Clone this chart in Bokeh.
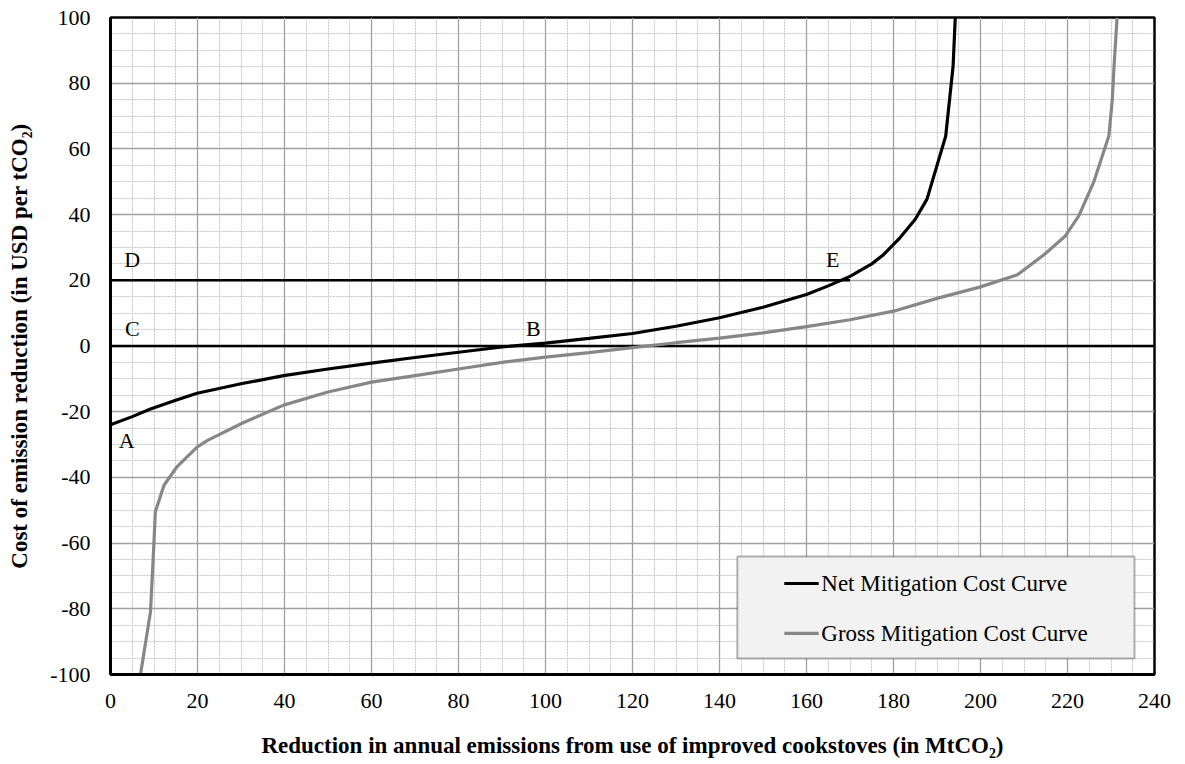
from bokeh.plotting import figure
from bokeh.models import (SingleIntervalTicker, BoxAnnotation, Range1d, CustomJSTickFormatter)
from bokeh.core.properties import value
from bokeh.embed import file_html
from bokeh.resources import INLINE

# ---- data ----
net_x = [0, 5, 9.2, 15, 19.9, 30, 39.8, 50, 60, 70, 80, 90, 100, 110, 120, 130, 140, 150,
         160, 165, 170, 175, 177.7, 181.2, 185, 187.7, 192, 193.7, 194.2]
net_y = [-24, -21.5, -19.2, -16.5, -14.4, -11.5, -9, -7, -5.2, -3.5, -1.9, -0.3, 0.9, 2.3,
         3.8, 6, 8.6, 11.8, 15.7, 18.3, 21.2, 25, 27.8, 32.5, 38.6, 44.7, 63.9, 85.2, 100]

gross_x = [6.9, 9.2, 10, 10.3, 12.3, 15.2, 19.9, 22.2, 30.6, 39.8, 50, 60, 70, 80, 90, 100,
           110, 120, 130, 140, 150, 160, 170, 180, 190, 200, 208.5, 214.6, 219.5, 222.6,
           226, 229.5, 230.3, 230.7, 231.4]
gross_y = [-100, -80.8, -59.6, -50.5, -42.4, -36.9, -30.8, -28.8, -23.3, -18, -14, -11, -9,
           -7, -5, -3.4, -2, -0.5, 1, 2.4, 4, 5.9, 8, 10.6, 14.5, 18, 21.7, 27.8, 33.5,
           39.6, 49.8, 63.9, 75, 85.2, 100]

line_c_x = [0, 240]
line_c_y = [0, 0]
line_d_x = [0, 170]
line_d_y = [20, 20]

point_labels = ["A", "B", "C", "D", "E"]
point_label_x = [3.7, 97.2, 5, 5, 166]
point_label_y = [-28.8, 5.2, 5.2, 26.2, 26.4]

x_ticks = [0, 20, 40, 60, 80, 100, 120, 140, 160, 180, 200, 220, 240]
x_tick_labels = ["0", "20", "40", "60", "80", "100", "120", "140", "160", "180", "200",
                 "220", "240"]
y_ticks = [-100, -80, -60, -40, -20, 0, 20, 40, 60, 80, 100]
y_tick_labels = ["-100", "-80", "-60", "-40", "-20", "0", "20", "40", "60", "80", "100"]

series_names = ["Net Mitigation Cost Curve", "Gross Mitigation Cost Curve"]
series_colors = ["black", "#878787"]
x_title = "Reduction in annual emissions from use of improved cookstoves (in MtCO\u2082)"
y_title = "Cost of emission reduction (in USD per tCO\u2082)"

SERIF = "Liberation Serif"

X0, X1, Y0, Y1 = 0, 240, -100, 100

p = figure(width=1175, height=760, output_backend="svg", toolbar_location=None,
           x_range=Range1d(X0, X1), y_range=Range1d(Y0, Y1))
p.min_border_left = 110
p.min_border_top = 17
p.min_border_right = 21
p.min_border_bottom = 85
p.background_fill_color = "white"
p.border_fill_color = "white"
p.outline_line_color = "black"
p.outline_line_width = 2.5

p.xaxis.ticker = SingleIntervalTicker(interval=20, num_minor_ticks=4)
p.yaxis.ticker = SingleIntervalTicker(interval=20, num_minor_ticks=4)
p.xaxis.formatter = CustomJSTickFormatter(code="return ''")
p.yaxis.formatter = CustomJSTickFormatter(code="return ''")

for ax in (p.xaxis, p.yaxis):
    ax.major_tick_line_color = None
    ax.minor_tick_line_color = None
    ax.major_tick_out = 0
    ax.major_tick_in = 0
    ax.axis_line_color = "black"
    ax.axis_line_width = 3
    ax.major_label_standoff = 0
    ax.major_label_text_font_size = "1px"
    ax.axis_label_text_font = SERIF
    ax.axis_label_text_font_style = "bold"
    ax.axis_label_text_font_size = "23px"
    ax.axis_label_text_color = "black"

p.xaxis.axis_label = x_title
p.yaxis.axis_label = y_title
p.xaxis.axis_label_standoff = 54
p.yaxis.axis_label_standoff = 75

for g in (p.xgrid, p.ygrid):
    g.grid_line_color = "#a0a0a0"
    g.grid_line_width = 1.3
    g.minor_grid_line_color = "#c4c4c4"
    g.minor_grid_line_width = 1
    g.minor_grid_line_dash = "2 1"

# reference lines C and D
p.line(line_c_x, line_c_y, line_color="black", line_width=2.5)
p.line(line_d_x, line_d_y, line_color="black", line_width=2.5)

p.line(net_x, net_y, line_color=series_colors[0], line_width=3.2)
p.line(gross_x, gross_y, line_color=series_colors[1], line_width=3.2)

p.text(x=point_label_x, y=point_label_y, text=point_labels, text_font=value(SERIF),
       text_font_size="22px", text_color="black", text_align="center",
       text_baseline="middle")

# tick labels (drawn as text at the tick values, outside the frame)
p.text(x=x_ticks, y=[Y0] * len(x_ticks), text=x_tick_labels, text_font=value(SERIF),
       text_font_size="22px", text_color="black", text_align="center",
       text_baseline="middle", y_offset=26, level="overlay")
p.text(x=[X0] * len(y_ticks), y=y_ticks, text=y_tick_labels, text_font=value(SERIF),
       text_font_size="22px", text_color="black", text_align="right",
       text_baseline="middle", x_offset=-20, level="overlay")

# legend box
box = BoxAnnotation(left=144.1, right=235.4, top=-64.1, bottom=-95.1,
                    fill_color="#f2f2f2", fill_alpha=1.0,
                    line_color="black", line_width=2)
p.add_layout(box)

legend_y = [-72.3, -87.5]
for i in range(2):
    p.line([154.9, 162.8], [legend_y[i], legend_y[i]], line_color=series_colors[i],
           line_width=3.2, level="overlay")
p.text(x=[163.4, 163.4], y=legend_y, text=series_names, text_font=value(SERIF),
       text_font_size="23px", text_color="black", text_align="left",
       text_baseline="middle", level="overlay")

open("out.html", "w").write(file_html(p, INLINE))
